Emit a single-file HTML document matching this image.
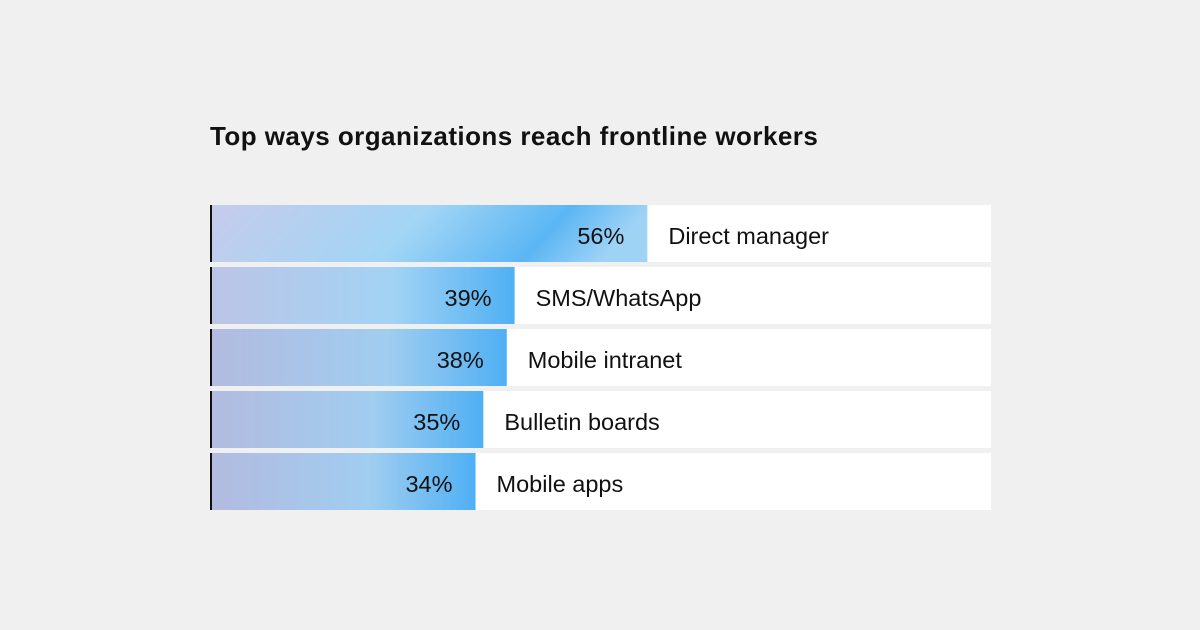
<!DOCTYPE html>
<html><head><meta charset="utf-8"><style>
body{margin:0;width:1200px;height:630px;background:#f0f0f0;font-family:"Liberation Sans",sans-serif;overflow:hidden}
#title{position:absolute;left:210px;top:121px;font-size:26px;font-weight:bold;color:#111;letter-spacing:0.45px}
svg{position:absolute;left:0;top:0}
</style></head><body>
<div id="title">Top ways organizations reach frontline workers</div>
<svg id="chart" width="1200" height="630">
<defs>
<linearGradient id="g1" x1="0" x2="1" y1="0" y2="0.12">
<stop offset="0" stop-color="#c6cbeb"/><stop offset="0.5" stop-color="#a2d5f5"/><stop offset="0.82" stop-color="#5bb6f4"/><stop offset="1" stop-color="#9fd3f6"/></linearGradient>
<linearGradient id="g2" x1="0" x2="1" y1="0" y2="0">
<stop offset="0" stop-color="#bcc4e6"/><stop offset="0.6" stop-color="#a2d3f4"/><stop offset="1" stop-color="#4fb0f4"/></linearGradient>
<linearGradient id="g3" x1="0" x2="1" y1="0" y2="0">
<stop offset="0" stop-color="#b2bbdf"/><stop offset="0.6" stop-color="#a0cdf0"/><stop offset="1" stop-color="#4fb0f4"/></linearGradient>
</defs>
</svg>
<script>
const categories=["Direct manager","SMS/WhatsApp","Mobile intranet","Bulletin boards","Mobile apps"];
const values=[56,39,38,35,34];
const svg=document.getElementById('chart');
const NS="http://www.w3.org/2000/svg";
const x0=210,x1=991;
const xs=v=>x0+(x1-x0)*v/100;
const rowY=i=>205+i*62;
const rowH=57;
function mk(t,a){const e=document.createElementNS(NS,t);for(const k in a)e.setAttribute(k,a[k]);svg.appendChild(e);return e;}
categories.forEach((c,i)=>{
  const y=rowY(i);
  const bg=mk('rect',{x:x0,y:y,width:x1-x0,height:rowH,fill:'#fff'});
  
  
  const b=mk('rect',{x:x0,y:y,width:xs(values[i])-x0,height:rowH,fill:i===0?'url(#g1)':(i<2?'url(#g2)':'url(#g3)')});
  
  
  const ax=mk('rect',{x:x0,y:y,width:2,height:rowH,fill:'#111'});
  
  
  const v=mk('text',{x:xs(values[i])-23,y:y+39,'text-anchor':'end','font-size':23.5,fill:'#111'});
  v.textContent=values[i]+'%';
  
  
  const l=mk('text',{x:xs(values[i])+21,y:y+39,'font-size':23.5,fill:'#111'});
  l.textContent=c;
  
  
});
</script>
</body></html>
